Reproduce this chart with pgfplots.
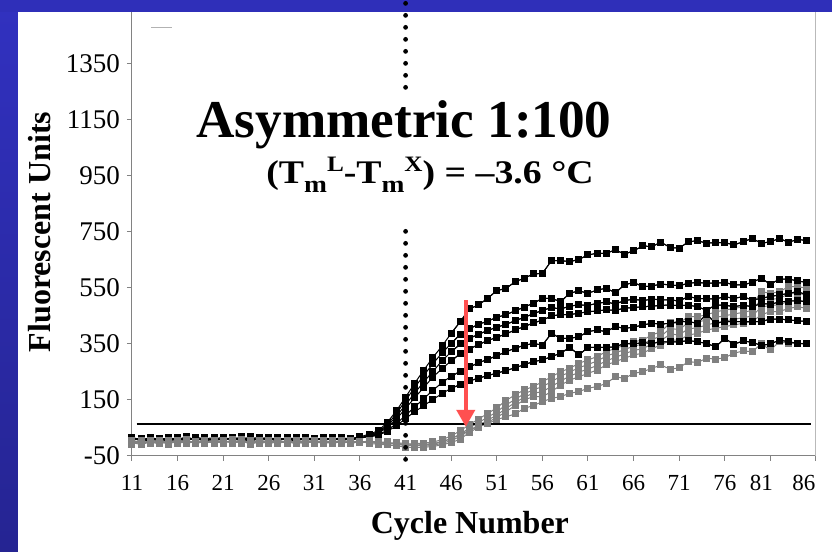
\documentclass[border=0pt]{standalone}
\usepackage{fontspec}
\setmainfont{Liberation Serif}
\usepackage{pgfplots}
\pgfplotsset{compat=1.18}
\usepackage{pgfplotstable}
\usetikzlibrary{arrows.meta}
\definecolor{slideblue}{RGB}{47,47,185}
\definecolor{slidebluetop}{RGB}{49,49,192}
\definecolor{slidebluebot}{RGB}{37,36,146}
\definecolor{arrowred}{RGB}{255,80,80}
\definecolor{datagray}{RGB}{128,128,128}
\definecolor{axisgray}{RGB}{130,130,130}
\newcommand{\mysub}[1]{\raisebox{-0.55ex}{\fontsize{12}{12}\selectfont #1}}
\newcommand{\mysup}[1]{\raisebox{0.85ex}{\fontsize{11}{11}\selectfont #1}}
\pgfplotstableread{
c A B C D E F G1 G2 G3 G4 G5
11 16 9 12 6 14 10 5 -3 2 -8 -2
12 8 14 6 12 4 9 -2 4 -6 1 -9
13 12 6 16 9 10 4 3 -5 6 -4 0
14 4 12 9 14 7 13 -6 2 -1 5 -7
15 14 8 4 10 16 6 4 -8 3 -2 2
16 9 16 11 5 8 12 -1 5 -4 7 -5
17 19 7 13 15 6 8 6 -2 8 -5 1
18 6 13 8 9 17 14 -4 3 -7 2 -3
19 12 5 15 7 11 5 2 -6 4 -1 6
20 15 11 6 13 5 10 -3 7 -2 4 -6
21 7 17 10 8 14 7 7 -1 5 -6 3
22 13 8 14 16 9 15 -5 4 -3 8 -1
23 10 14 5 11 18 9 3 -4 9 -2 5
24 18 6 12 6 7 4 -2 6 -5 3 -8
25 5 12 17 13 12 11 5 -7 2 -3 1
26 11 9 8 10 15 16 -6 3 -1 6 -4
27 14 15 13 4 6 8 1 -3 7 -5 4
28 8 7 9 17 11 13 -3 5 -4 2 -2
29 16 13 4 9 8 6 4 -2 3 -7 0
30 6 10 15 12 14 10 -1 6 -6 1 -5
31 12 6 11 7 5 14 2 -5 5 -3 3
32 9 16 7 14 13 7 -4 1 -2 6 -6
33 15 8 14 8 9 12 5 -6 4 -1 2
34 7 12 10 13 16 5 -2 3 -5 4 -4
35 13 14 8 10 7 11 1 -4 2 -6 5
36 18 12 14 16 13 17 -3 2 -1 3 -2
37 28 24 22 20 21 18 0 -3 4 -5 1
38 40 36 33 31 26 24 2 -4 -1 -8 -3
39 70 62 57 52 42 38 -3 0 -7 -10 -5
40 112 102 92 82 66 58 -5 -9 -2 -14 -8
41 160 148 133 120 95 84 -8 -12 -6 -18 -10
42 210 195 175 158 125 108 -6 -14 -10 -20 -12
43 257 238 215 195 155 130 -4 -11 -15 -19 -8
44 302 280 252 232 185 152 0 -8 -12 -16 -6
45 343 318 290 262 212 173 8 0 -5 -10 2
46 388 352 322 290 235 192 22 12 5 -2 12
47 430 385 350 315 252 205 40 28 20 10 26
48 475 405 370 332 268 218 62 50 42 35 42
49 490 420 385 348 283 228 82 70 60 52 55
50 513 432 398 362 295 237 102 88 78 70 66
51 541 445 410 374 308 246 122 108 96 88 80
52 548 455 420 386 322 255 148 132 120 108 90
53 572 468 433 400 335 265 168 152 140 130 100
54 585 482 445 412 345 276 186 172 160 150 120
55 600 495 458 425 352 287 198 186 174 162 130
56 602 513 470 435 346 293 215 198 180 162 144
57 648 513 480 450 388 305 233 215 198 180 156
58 648 501 475 455 370 317 251 235 218 203 162
59 644 531 485 455 370 338 263 250 235 221 174
60 652 540 490 460 376 311 281 265 249 233 180
61 668 531 488 465 394 338 293 277 261 245 192
62 674 543 495 468 400 338 305 289 273 257 198
63 674 549 500 472 394 338 323 307 290 275 209
64 686 533 493 470 412 340 334 318 302 287 233
65 671 561 505 478 406 352 346 330 315 299 227
66 683 570 510 480 410 350 358 342 327 311 245
67 700 555 505 483 418 355 364 350 333 317 251
68 698 557 510 485 424 352 382 366 350 334 263
69 713 564 508 488 421 358 394 378 362 346 275
70 695 561 507 489 424 358 425 405 385 364 260
71 692 558 504 487 430 358 424 402 383 364 265
72 715 567 519 489 430 362 448 426 404 382 287
73 719 570 513 483 424 358 448 428 408 388 284
74 710 567 511 471 456 352 454 436 418 400 299
75 712 567 511 489 424 340 465 445 426 406 296
76 712 570 519 489 430 370 471 451 432 412 301
77 704 561 513 483 430 349 477 457 438 418 317
78 715 561 519 489 430 361 483 463 444 424 325
79 727 570 507 483 430 356 489 470 450 430 323
80 710 585 513 495 430 345 537 510 482 454 350
81 715 563 520 492 439 350 531 509 488 466 329
82 727 582 525 500 439 364 537 513 490 466 358
83 713 582 531 503 436 358 555 529 503 477 352
84 724 575 537 505 433 352 555 531 507 483 352
85 719 570 525 500 430 350 549 525 501 477 352
}\data
\begin{document}
\begin{tikzpicture}
\fill[white] (-66pt,-48pt) rectangle (350pt,228pt);
\begin{axis}[
  at={(0,0)}, anchor=south west,
  scale only axis, width=342pt, height=224pt,
  xmin=11, xmax=86, ymin=-50, ymax=1550,
  axis x line*=bottom, axis y line*=left,
  axis line style={-, draw=axisgray, line width=0.5pt},
  xtick={11,16,...,86}, ytick={-50,150,...,1350},
  xticklabels={11,16,21,26,31,36,41,46,51,56,61,66,71,76,{81\kern9pt},{86\kern12pt}},
  tick align=outside, major tick length=2.5pt,
  tick style={draw=axisgray, line width=0.5pt},
  /pgf/number format/assume math mode=true,
  /pgf/number format/1000 sep={},
  xticklabel style={font=\fontsize{11.5}{11.5}\selectfont, yshift=-3.5pt},
  yticklabel style={font=\fontsize{13.5}{13.5}\selectfont},
  xlabel={\textbf{Cycle Number}},
  ylabel={\textbf{Fluorescent Units}},
  xlabel style={font=\fontsize{16}{16}\selectfont, at={(axis description cs:0.494,-0.1719)}, anchor=base},
  ylabel style={font=\fontsize{16}{16}\selectfont, at={(axis description cs:-0.1345,0.5)}, anchor=center},
  clip=false,
  blk/.style={black, line width=0.5pt, mark=square*, mark size=1.5pt, mark options={solid, fill=black, draw=black}},
  gry/.style={datagray, line width=0.5pt, mark=square*, mark size=1.5pt, mark options={solid, fill=datagray, draw=datagray}},
]
\draw[gray!55, line width=0.5pt] (rel axis cs:1,0) -- (rel axis cs:1,1);
\draw[gray!60, line width=0.5pt] (axis cs:13.1,1482) -- (axis cs:15.4,1482);
\addplot[blk] table[x=c,y=A]{\data};
\addplot[blk] table[x=c,y=B]{\data};
\addplot[blk] table[x=c,y=C]{\data};
\addplot[blk] table[x=c,y=D]{\data};
\addplot[blk] table[x=c,y=E]{\data};
\addplot[blk] table[x=c,y=F]{\data};
\addplot[gry] table[x=c,y=G1]{\data};
\addplot[gry] table[x=c,y=G2]{\data};
\addplot[gry] table[x=c,y=G3]{\data};
\addplot[gry] table[x=c,y=G4]{\data};
\addplot[gry] table[x=c,y=G5]{\data};
\addplot[blk, restrict x to domain=46:85] table[x=c,y=A]{\data};
\addplot[blk, restrict x to domain=46:85] table[x=c,y=B]{\data};
\addplot[blk, restrict x to domain=46:85] table[x=c,y=C]{\data};
\addplot[blk, restrict x to domain=46:85] table[x=c,y=D]{\data};
\addplot[blk, restrict x to domain=46:85] table[x=c,y=E]{\data};
\addplot[blk, restrict x to domain=46:85] table[x=c,y=F]{\data};
\addplot[black, line width=1pt, mark=none] coordinates {(11.5,63) (85.4,63)};
\coordinate (dotbot) at (axis cs:41,-62);
\coordinate (dottop) at (axis cs:41,1580);
\coordinate (arrtop) at (axis cs:47.6,507);
\coordinate (arrtip) at (axis cs:47.6,54);
\end{axis}
\shade[top color=slidebluetop, bottom color=slidebluebot] (-66pt,-48pt) rectangle (-57pt,228pt);
\fill[slideblue] (-66pt,222pt) rectangle (350pt,228pt);
\draw[black, line width=2.4pt, line cap=round, dash pattern=on 0pt off 6pt] (dotbot) -- (dottop);
\fill[white] (29pt,115pt) rectangle (240pt,180.5pt);
\node[anchor=base, inner sep=0pt, font=\fontsize{26.6}{26.6}\selectfont\bfseries] at (136pt,159.25pt) {Asymmetric 1:100};
\node[anchor=base, inner sep=0pt, font=\fontsize{16.5}{16.5}\selectfont\bfseries] at (149pt,136pt) {\scalebox{1.145}[1]{(T\mysub{m}\mysup{L}-T\mysub{m}\mysup{X}) = –3.6 °C}};
\draw[arrowred, line width=2pt, -{Triangle[width=9pt,length=8.5pt]}] (arrtop) -- (arrtip);
\pgfresetboundingbox
\path[use as bounding box] (-66pt,-48pt) rectangle (350pt,228pt);
\end{tikzpicture}
\end{document}
